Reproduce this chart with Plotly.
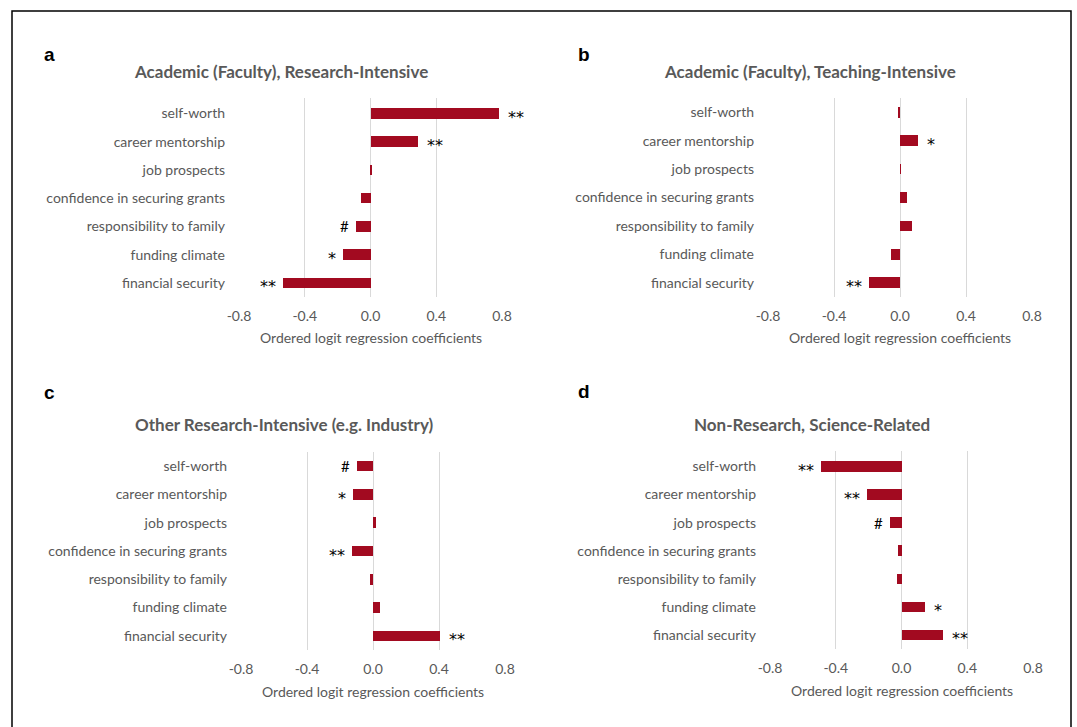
import plotly.graph_objects as go

W, H = 1077, 727

categories = ["self-worth", "career mentorship", "job prospects",
              "confidence in securing grants", "responsibility to family",
              "funding climate", "financial security"]

panel_letters = ["a", "b", "c", "d"]
panel_titles = ["Academic (Faculty), Research-Intensive",
                "Academic (Faculty), Teaching-Intensive",
                "Other Research-Intensive (e.g. Industry)",
                "Non-Research, Science-Related"]

values_a = [0.78, 0.29, 0.01, -0.06, -0.09, -0.17, -0.53]
values_b = [-0.008, 0.11, 0.002, 0.045, 0.07, -0.055, -0.19]
values_c = [-0.10, -0.12, 0.02, -0.13, -0.02, 0.045, 0.405]
values_d = [-0.49, -0.21, -0.07, -0.02, -0.025, 0.145, 0.255]

sig_a = ["**", "**", "", "", "#", "*", "**"]
sig_b = ["", "*", "", "", "", "", "**"]
sig_c = ["#", "*", "", "**", "", "", "**"]
sig_d = ["**", "**", "#", "", "", "*", "**"]

tick_vals = [-0.8, -0.4, 0.0, 0.4, 0.8]
tick_text = ["-0.8", "-0.4", "0.0", "0.4", "0.8"]
axis_title = "Ordered logit regression coefficients"

values = [values_a, values_b, values_c, values_d]
sigs = [sig_a, sig_b, sig_c, sig_d]

# plot areas in pixels: (x0, x1, ytop, ybottom)
boxes = [(239, 502, 98, 297), (768, 1032, 98, 297),
         (241, 505, 452, 650), (770, 1033, 451, 649)]
title_pos = [(281, 71), (810, 71), (284, 424), (812, 424)]
letter_pos = [(49, 54), (584, 54), (49, 392), (584, 391)]

BAR = "#A20A20"
GREY = "#595959"
FONT = "Lato"

def px(x):
    return x / W

def py(y):
    return 1 - y / H

fig = go.Figure()
annotations = []
for i in range(4):
    sfx = "" if i == 0 else str(i + 1)
    x0, x1, yt, yb = boxes[i]
    fig.add_trace(go.Bar(
        x=values[i], y=categories, orientation="h",
        marker=dict(color=BAR, line=dict(width=0)),
        width=0.375, xaxis="x" + sfx, yaxis="y" + sfx,
        showlegend=False, hoverinfo="x+y"))
    fig.layout["xaxis" + sfx] = dict(
        domain=[px(x0), px(x1)], range=[-0.8, 0.8], anchor="y" + sfx,
        tickvals=tick_vals, ticktext=tick_text, showgrid=True,
        gridcolor="#D9D9D9", gridwidth=1, zeroline=False, showline=False,
        ticks="", tickfont=dict(family=FONT, size=14, color=GREY),
        ticklabelstandoff=9, automargin=False, fixedrange=True)
    fig.layout["yaxis" + sfx] = dict(
        domain=[py(yb), py(yt)], anchor="x" + sfx, type="category",
        categoryorder="array", categoryarray=categories, autorange="reversed",
        showgrid=False, zeroline=False, showline=False, ticks="",
        tickfont=dict(family=FONT, size=14, color=GREY),
        ticklabelstandoff=13, automargin=False, fixedrange=True)
    # axis title
    annotations.append(dict(
        x=px((x0 + x1) / 2), y=py(yb + 41), xref="paper", yref="paper",
        text=axis_title, showarrow=False, xanchor="center", yanchor="middle",
        font=dict(family=FONT, size=14, color=GREY)))
    # panel title
    tx, ty = title_pos[i]
    annotations.append(dict(
        x=px(tx), y=py(ty), xref="paper", yref="paper",
        text="<b>" + panel_titles[i] + "</b>", showarrow=False,
        xanchor="center", yanchor="middle",
        font=dict(family=FONT, size=17, color=GREY)))
    # panel letter
    lx, ly = letter_pos[i]
    annotations.append(dict(
        x=px(lx), y=py(ly), xref="paper", yref="paper",
        text="<b>" + panel_letters[i] + "</b>", showarrow=False,
        xanchor="center", yanchor="middle",
        font=dict(family="Liberation Sans", size=19, color="black")))
    # significance markers
    for cat, v, s in zip(categories, values[i], sigs[i]):
        if not s:
            continue
        pos = v >= 0
        star = s != "#"
        annotations.append(dict(
            x=v, y=cat, xref="x" + sfx, yref="y" + sfx, text=s,
            showarrow=False, xanchor="left" if pos else "right",
            yanchor="middle", xshift=7 if pos else -5,
            yshift=-4 if star else 0,
            font=dict(family="DejaVu Sans" if star else FONT,
                      size=16 if star else 15, color="black")))

fig.update_layout(
    template="none",
    width=W, height=H, margin=dict(l=0, r=0, t=0, b=0, autoexpand=False),
    paper_bgcolor="white", plot_bgcolor="white",
    annotations=annotations, bargap=0,
    shapes=[dict(type="rect", xref="paper", yref="paper",
                 x0=px(12), x1=px(1071), y0=-0.05, y1=py(11),
                 line=dict(color="black", width=1.5), fillcolor="rgba(0,0,0,0)")])

fig.write_html("out.html", config={"displayModeBar": False},
               post_script="document.body.style.margin='0';document.body.style.overflow='hidden';")
